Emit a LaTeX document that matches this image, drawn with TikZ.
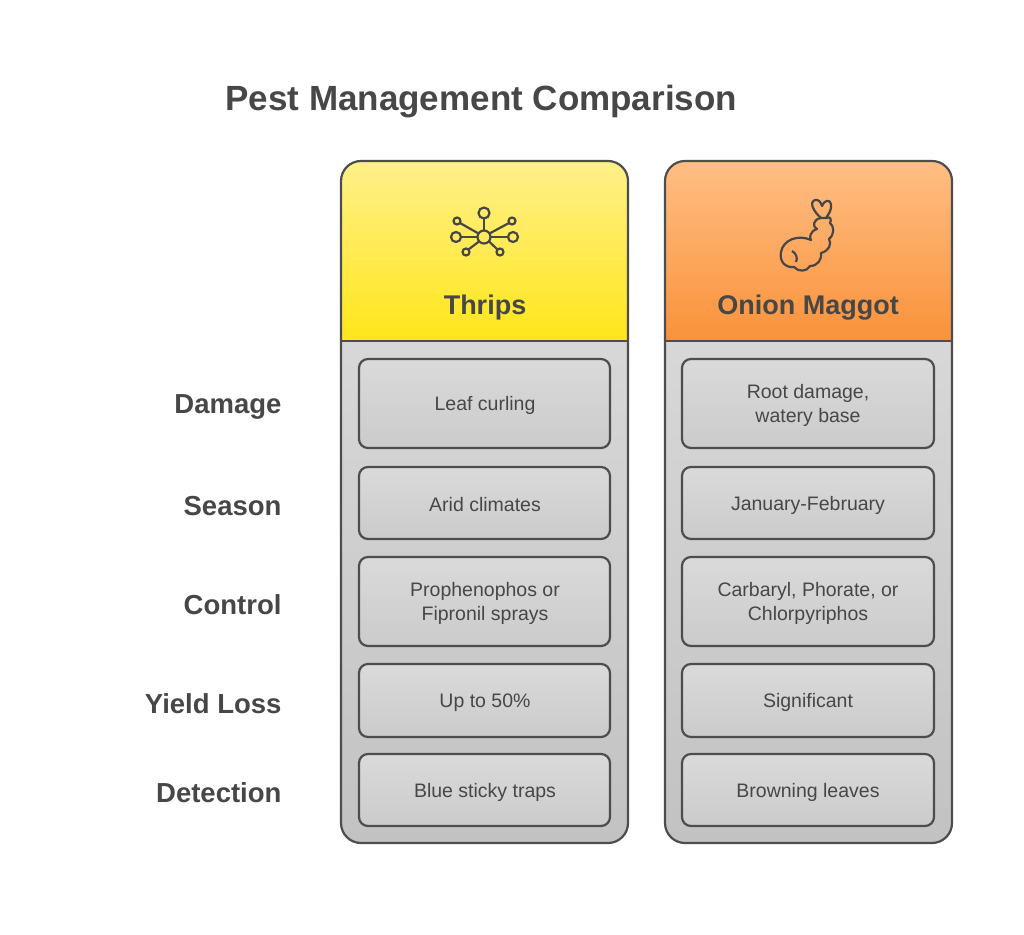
\documentclass[tikz,border=0pt]{standalone}
\usepackage{fontspec}
\setmainfont{Liberation Sans}
\begin{document}
\begin{tikzpicture}[x=1pt,y=-1pt,
  stroke/.style={draw=edge,line width=2.2pt},
  cell/.style={stroke,rounded corners=9pt,top color=cellA,bottom color=cellB},
  celltext/.style={font=\fontsize{19.5}{24}\selectfont,text=txt,align=center},
  rowlabel/.style={font=\bfseries\fontsize{27.5}{32}\selectfont,text=txt,anchor=east},
  head/.style={font=\bfseries\fontsize{27}{32}\selectfont,text=txt},
  icon/.style={draw=txt,line width=2.2pt}]
\definecolor{edge}{HTML}{4D4D4D}
\definecolor{txt}{HTML}{474747}
\definecolor{cellA}{HTML}{DADADA}
\definecolor{cellB}{HTML}{CBCBCB}
\definecolor{bodyA}{HTML}{D8D8D8}
\definecolor{bodyB}{HTML}{C2C2C2}
\definecolor{yelA}{HTML}{FFF08A}
\definecolor{yelB}{HTML}{FFE619}
\definecolor{orA}{HTML}{FFBE85}
\definecolor{orB}{HTML}{FA923A}
\useasboundingbox (0,0) rectangle (1024,934);
\fill[white] (0,0) rectangle (1024,934);
\node[font=\bfseries\fontsize{35}{40}\selectfont,text=txt,anchor=west] (title) at (222,102) {Pest Management Comparison};
% columns
\foreach \x/\a/\b/\n in {341/yelA/yelB/L,665/orA/orB/R}{
  \path[top color=bodyA,bottom color=bodyB] (\x,330) [rounded corners=20pt]-- (\x,843) -- (\x+287,843) [sharp corners]-- (\x+287,330) -- cycle;
  \path[top color=\a,bottom color=\b] (\x,341) [rounded corners=20pt]-- (\x,161) -- (\x+287,161) [sharp corners]-- (\x+287,341) -- cycle;
  \draw[stroke] (\x,341) -- (\x+287,341);
  \draw[stroke,rounded corners=20pt] (\x,161) rectangle (\x+287,843);
}
\node[head] (h1) at (485,308) {Thrips};
\node[head] (h2) at (808,308) {Onion Maggot};
% rows
\foreach \t/\bt/\lab/\ca/\cb [count=\i] in {
  359/448/Damage/Leaf curling/{Root damage,\\watery base},
  467/539/Season/Arid climates/January-February,
  557/646/Control/{Prophenophos or\\Fipronil sprays}/{Carbaryl, Phorate, or\\Chlorpyriphos},
  664/737/Yield Loss/Up to 50\%/Significant,
  754/826/Detection/Blue sticky traps/Browning leaves}{
  \node[rowlabel] (lab\i) at (285,{(\t+\bt)/2+3}) {\lab};
  \draw[cell] (359,\t) rectangle (610,\bt);
  \draw[cell] (682,\t) rectangle (934,\bt);
  \node[celltext] (a\i) at (485,{(\t+\bt)/2+2}) {\ca};
  \node[celltext] (b\i) at (808,{(\t+\bt)/2+2}) {\cb};
}
% thrips icon
\draw[icon] (484,237) circle (6.5);
\draw[icon] (484,213) circle (5.5);
\draw[icon] (484,218.5) -- (484,230.5);
\draw[icon] (456,237) circle (5); \draw[icon] (461,237) -- (477.5,237);
\draw[icon] (513,237) circle (5); \draw[icon] (508,237) -- (490.5,237);
\draw[icon] (457,221) circle (3.5); \draw[icon] (460,223) -- (478.5,233.5);
\draw[icon] (512,221) circle (3.5); \draw[icon] (509,223) -- (489.5,233.5);
\draw[icon] (466,252) circle (3.5); \draw[icon] (468.5,249.5) -- (479,241.5);
\draw[icon] (500,252) circle (3.5); \draw[icon] (497.5,249.5) -- (489,241.5);
% maggot icon
\draw[icon,line join=round] (821,218) .. controls (813,211) and (809,202) .. (815,200)
  .. controls (819,199) and (821,203) .. (822,206)
  .. controls (824,200) and (830,199) .. (831,204)
  .. controls (832,210) and (828,215) .. (826,218);
\draw[icon,line join=round] (821,218) .. controls (813,219) and (812,227) .. (817,229)
  .. controls (810,231) and (809,238) .. (811,240)
  .. controls (798,234) and (783,240) .. (781,252)
  .. controls (779,262) and (786,268) .. (794,267)
  .. controls (798,272) and (807,272) .. (810,266)
  .. controls (818,266) and (822,259) .. (821,253)
  .. controls (829,251) and (832,244) .. (829,239)
  .. controls (835,234) and (834,226) .. (830,223)
  .. controls (832,219) and (830,216) .. (826,218) -- cycle;
\draw[icon] (792,251) .. controls (796,253) and (798,258) .. (796,262);
\end{tikzpicture}
\end{document}
